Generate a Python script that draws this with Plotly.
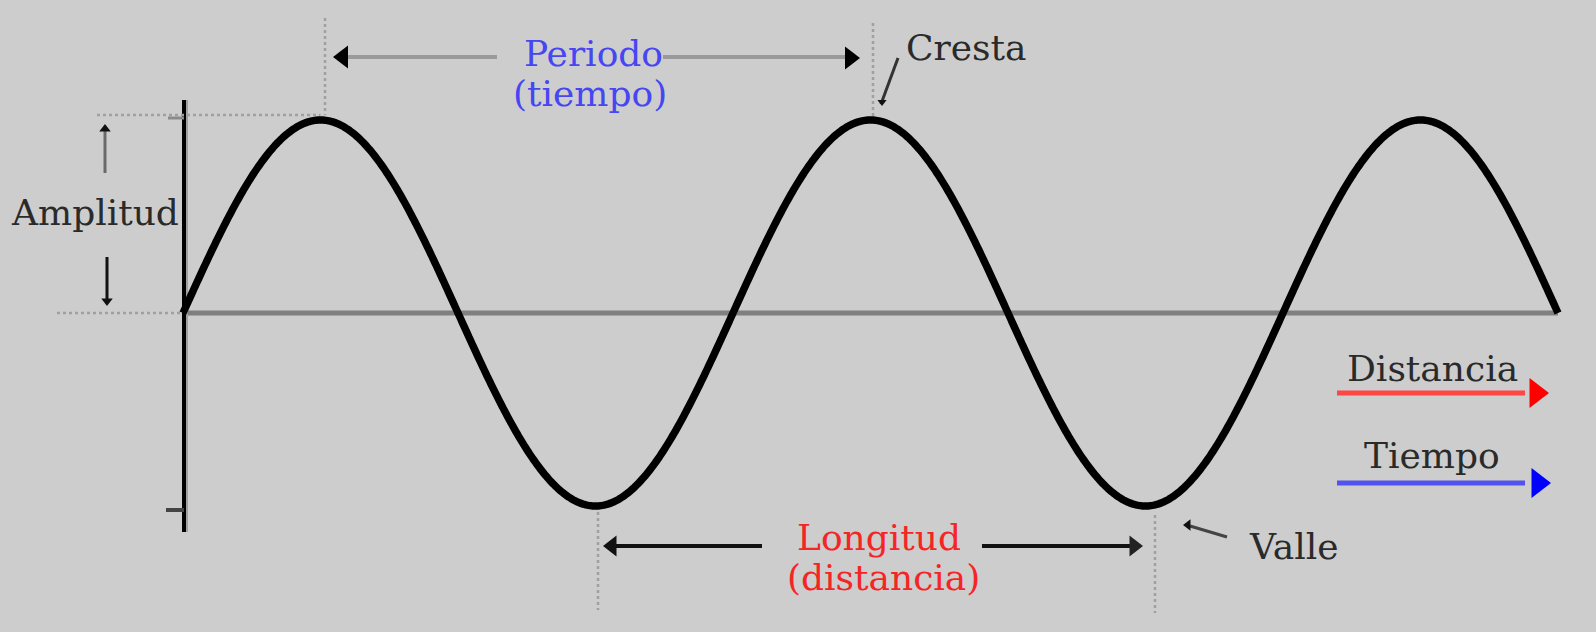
import numpy as np
import plotly.graph_objects as go

# ---- data (wave parameters and labels) ----
amplitude = 1.0          # amplitude units
period = 1.0             # period units
cycles = 2.5             # number of periods drawn
samples_per_period = 400
label_texts = ["Amplitud", "Periodo", "(tiempo)", "Cresta", "Distancia",
               "Tiempo", "Longitud", "(distancia)", "Valle"]
label_colors = ["#2a2a2a", "#4646f2", "#4646f2", "#2a2a2a", "#2a2a2a",
                "#2a2a2a", "#f52525", "#f52525", "#2a2a2a"]

# ---- layout calibration (pixel frame of the picture) ----
W, H = 1596, 632
X0, PX = 183.0, 550.0    # pixel of x=0, pixels per period
Y0, PY = 313.0, 193.0    # pixel of y=0, pixels per amplitude unit


def X(p):
    return (p - X0) / PX


def Y(p):
    return (Y0 - p) / PY


t = np.linspace(0, cycles * period, int(cycles * samples_per_period) + 1)
wave = amplitude * np.sin(2 * np.pi * t / period)

peak1 = 0.25 * period
peak2 = 1.25 * period
trough1 = 0.75 * period
trough2 = 1.75 * period

fig = go.Figure()

shapes = []


def seg(x0, y0, x1, y1, color, width, dash=None):
    line = dict(color=color, width=width)
    if dash:
        line["dash"] = dash
    shapes.append(dict(type="line", xref="x", yref="y", x0=x0, y0=y0,
                       x1=x1, y1=y1, line=line, layer="below"))


# baseline
seg(0, 0, cycles * period, 0, "#808080", 5)
# vertical axis + shadow
seg(X(187), Y(100), X(187), Y(532), "#a0a0a0", 2)
seg(X(184), Y(100), X(184), Y(532), "#000000", 4)
# ticks
seg(X(168), Y(118), X(184), Y(118), "#8a8a8a", 3)
seg(X(166), Y(510), X(184), Y(510), "#444444", 4)
# dotted guides
dot = "#a0a0a0"
seg(X(57), 0, X(182), 0, dot, 2.5, "dot")
seg(X(97), Y(115), peak1, Y(115), dot, 2.5, "dot")
off1 = (325 - 320.5) / PX
off2 = (873 - 870.5) / PX
off3 = (598 - 595.5) / PX
off4 = (1155 - 1145.5) / PX
seg(peak1 + off1, Y(18), peak1 + off1, Y(115), dot, 2.5, "dot")
seg(peak2 + off2, Y(23), peak2 + off2, Y(117), dot, 2.5, "dot")
seg(trough1 + off3, Y(512), trough1 + off3, Y(610), dot, 2.5, "dot")
seg(trough2 + off4, Y(515), trough2 + off4, Y(613), dot, 2.5, "dot")

# period arrow lines (gray)
seg(X(345), Y(57), X(497), Y(57), "#9a9a9a", 4)
seg(X(663), Y(57), X(845), Y(57), "#9a9a9a", 4)
# wavelength arrow lines (black)
seg(X(615), Y(546), X(762), Y(546), "#111111", 4)
seg(X(982), Y(546), X(1130), Y(546), "#111111", 4)
# legend arrows
seg(X(1337), Y(393), X(1525), Y(393), "#ff4545", 5)
seg(X(1337), Y(483), X(1525), Y(483), "#5252ee", 5)
# amplitude arrows
seg(X(105), Y(128), X(105), Y(173), "#6a6a6a", 3)
seg(X(107), Y(257), X(107), Y(300), "#111111", 3)
# pointers
seg(X(898), Y(58), X(881), Y(104), "#333333", 3)
seg(X(1190), Y(526), X(1227), Y(537), "#444444", 3)

# wave
fig.add_trace(go.Scatter(x=t, y=wave, mode="lines",
                         line=dict(color="#000000", width=7.5, simplify=False),
                         hoverinfo="skip", showlegend=False))

# arrowheads
heads = [
    (X(343), Y(57), "triangle-left", "#000000", 20),
    (X(850), Y(58), "triangle-right", "#000000", 20),
    (X(612), Y(546), "triangle-left", "#111111", 18),
    (X(1134), Y(546), "triangle-right", "#222222", 18),
    (X(1536), Y(393), "triangle-right", "#ff0000", 26),
    (X(1538), Y(483), "triangle-right", "#0000ff", 26),
    (X(105), Y(129), "triangle-up", "#111111", 10),
    (X(107), Y(301), "triangle-down", "#111111", 10),
    (X(882), Y(102), "triangle-down", "#111111", 8),
    (X(1188), Y(525), "triangle-left", "#111111", 10),
]
for hx, hy, sym, col, sz in heads:
    fig.add_trace(go.Scatter(x=[hx], y=[hy], mode="markers",
                             marker=dict(symbol=sym, color=col, size=sz,
                                         line=dict(width=0)),
                             hoverinfo="skip", showlegend=False))

# text labels
label_pos = [(95, 212), (593, 53), (590, 93), (966, 47), (1432, 368),
             (1432, 455), (879, 537), (883, 577), (1294, 546)]
annotations = []
for txt, col, (px, py) in zip(label_texts, label_colors, label_pos):
    annotations.append(dict(x=X(px), y=Y(py), xref="x", yref="y", text=txt,
                            showarrow=False, xanchor="center", yanchor="middle",
                            font=dict(family="DejaVu Serif", size=36, color=col)))

fig.update_layout(
    width=W, height=H,
    margin=dict(l=0, r=0, t=0, b=0),
    paper_bgcolor="#cdcdcd", plot_bgcolor="#cdcdcd",
    xaxis=dict(range=[X(0), X(W)], visible=False, fixedrange=True),
    yaxis=dict(range=[Y(H), Y(0)], visible=False, fixedrange=True),
    shapes=shapes, annotations=annotations, showlegend=False,
)

fig.write_html("out.html",
               config={"displayModeBar": False, "staticPlot": True},
               post_script="document.body.style.margin='0';"
                           "document.body.style.background='#cdcdcd';")
